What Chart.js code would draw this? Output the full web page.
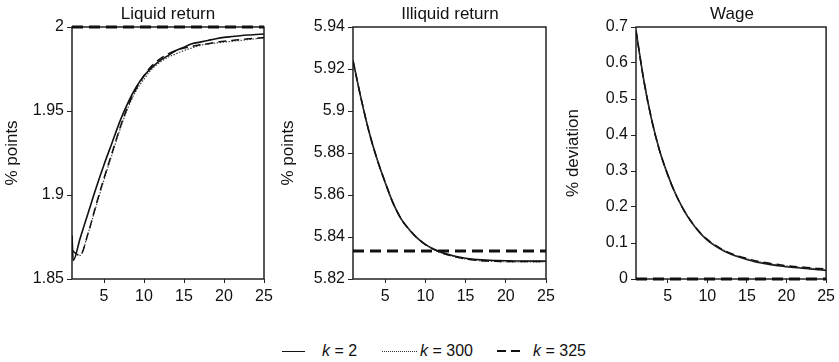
<!DOCTYPE html>
<html>
<head>
<meta charset="utf-8">
<script src="https://cdn.jsdelivr.net/npm/chart.js@4.4.1/dist/chart.umd.min.js"></script>
<style>
  html, body { margin: 0; padding: 0; background: #fff; }
  body { width: 839px; height: 362px; position: relative; overflow: hidden; font-family: "Liberation Sans", Arial, sans-serif; color: #111; }
  .panel { position: absolute; top: 0; }
  .ttl { position: absolute; top: 4px; font-size: 17px; text-align: center; white-space: nowrap; }
  .leg { position: absolute; font-size: 16px; white-space: nowrap; line-height: 16px; }
  .smp { position: absolute; height: 0; }
</style>
</head>
<body>
<div class="panel" style="left:0px"><canvas id="c1" width="280" height="310"></canvas></div>
<div class="panel" style="left:280px"><canvas id="c2" width="280" height="310"></canvas></div>
<div class="panel" style="left:560px"><canvas id="c3" width="279" height="310"></canvas></div>

<div class="ttl" style="left:68px;width:200px">Liquid return</div>
<div class="ttl" style="left:350px;width:200px">Illiquid return</div>
<div class="ttl" style="left:632px;width:200px">Wage</div>

<div class="smp" style="left:282px;top:351px;width:23px;border-top:1.5px solid #111"></div>
<div class="leg" style="left:322px;top:343px"><i>k</i> = 2</div>
<div class="smp" style="left:382px;top:351px;width:35px;border-top:1px dotted #333"></div>
<div class="leg" style="left:420px;top:343px"><i>k</i> = 300</div>
<div class="smp" style="left:497px;top:350px;width:23px;height:2px;background:repeating-linear-gradient(90deg,#111 0 9px,transparent 9px 14px)"></div>
<div class="leg" style="left:533px;top:343px"><i>k</i> = 325</div>

<script>
// ---------- data ----------
const periods = [1,2,3,4,5,6,7,8,9,10,11,12,13,14,15,16,17,18,19,20,21,22,23,24,25];
const xTickValues = [5,10,15,20,25];

// Liquid return (% points)
const liqK2Dip = [1.15, 1.861];          // early dip point of k = 2 curve (x, value)
const liqK2   = [1.876,1.874,1.889,1.904,1.918,1.931,1.944,1.955,1.964,1.971,1.976,1.980,1.983,1.986,1.988,1.990,1.991,1.992,1.993,1.9938,1.9943,1.9948,1.9952,1.9955,1.9958];
const liqK300 = [1.867,1.864,1.877,1.893,1.909,1.924,1.939,1.952,1.962,1.969,1.975,1.979,1.982,1.984,1.986,1.9875,1.989,1.990,1.9905,1.991,1.9915,1.992,1.9925,1.993,1.9935];
const liqK325 = [1.867,1.864,1.877,1.894,1.910,1.925,1.940,1.953,1.963,1.971,1.977,1.981,1.984,1.986,1.9875,1.9885,1.9895,1.990,1.991,1.9915,1.992,1.9925,1.993,1.9933,1.9937];
const liqFlat = 2.0;
const liqTicks = [1.85, 1.9, 1.95, 2];

// Illiquid return (% points)
const illK2   = [5.924,5.906,5.890,5.877,5.866,5.856,5.8485,5.8435,5.8395,5.8365,5.8343,5.8327,5.8315,5.8306,5.8299,5.8294,5.8291,5.8289,5.8288,5.8287,5.8286,5.8286,5.8285,5.8285,5.8285];
const illK300 = [5.924,5.906,5.890,5.877,5.866,5.856,5.8485,5.8435,5.8394,5.8363,5.8341,5.8324,5.8312,5.8302,5.8295,5.8290,5.8286,5.8284,5.8283,5.8282,5.8282,5.8282,5.8282,5.8282,5.8282];
const illK325 = [5.924,5.906,5.890,5.877,5.866,5.856,5.8485,5.8435,5.8395,5.8364,5.8342,5.8325,5.8313,5.8303,5.8296,5.8291,5.8287,5.8285,5.8284,5.8283,5.8283,5.8283,5.8283,5.8283,5.8283];
const illFlat = 5.8333;
const illTicks = [5.82, 5.84, 5.86, 5.88, 5.9, 5.92, 5.94];

// Wage (% deviation)
const wageK2   = [0.690,0.550,0.440,0.355,0.290,0.236,0.193,0.158,0.130,0.108,0.092,0.079,0.069,0.061,0.054,0.048,0.044,0.040,0.037,0.034,0.032,0.030,0.028,0.026,0.024];
const wageK300 = [0.690,0.550,0.440,0.355,0.290,0.236,0.193,0.159,0.131,0.109,0.093,0.080,0.070,0.062,0.056,0.050,0.046,0.042,0.039,0.036,0.034,0.032,0.030,0.028,0.027];
const wageK325 = [0.690,0.550,0.440,0.355,0.290,0.236,0.193,0.159,0.131,0.110,0.094,0.081,0.071,0.063,0.057,0.051,0.047,0.043,0.040,0.037,0.035,0.033,0.031,0.029,0.028];
const wageFlat = 0;
const wageTicks = [0, 0.1, 0.2, 0.3, 0.4, 0.5, 0.6, 0.7];

// ---------- helpers ----------
const FONT = "'Liberation Sans', Arial, sans-serif";
const pts = (vals) => vals.map((v, i) => ({x: periods[i], y: v}));
const flat = (v) => [{x: periods[0], y: v}, {x: periods[periods.length - 1], y: v}];

const boxPlugin = {
  id: 'box',
  beforeDatasetsDraw(chart) {
    const a = chart.chartArea, ctx = chart.ctx;
    ctx.save();
    ctx.strokeStyle = '#222';
    ctx.lineWidth = 1.5;
    ctx.strokeRect(a.left, a.top, a.right - a.left, a.bottom - a.top);
    ctx.restore();
  }
};

function series(k2, k300, k325, flatVal, dip) {
  const k2pts = pts(k2);
  if (dip) k2pts.splice(1, 0, {x: dip[0], y: dip[1]});
  return [
    {label: 'flat', data: flat(flatVal), borderColor: '#111', borderWidth: 3, borderDash: [11, 6], clip: 6},
    {label: 'k = 325', data: pts(k325), borderColor: '#111', borderWidth: 1.5, borderDash: [8, 5]},
    {label: 'k = 300', data: pts(k300), borderColor: '#444', borderWidth: 1.2, borderDash: [1.5, 1.5]},
    {label: 'k = 2', data: k2pts, borderColor: '#111', borderWidth: 1.6}
  ];
}

function makeChart(id, datasets, yTicks, yTitle, axisWidth, padRight, titlePad) {
  return new Chart(document.getElementById(id), {
    type: 'line',
    data: {datasets},
    options: {
      responsive: false,
      animation: false,
      devicePixelRatio: 1,
      layout: {padding: {top: 27, right: padRight, left: 0, bottom: 0}},
      elements: {point: {radius: 0}, line: {cubicInterpolationMode: 'monotone', fill: false}},
      plugins: {legend: {display: false}, tooltip: {enabled: false}, title: {display: false}},
      scales: {
        x: {
          type: 'linear', min: periods[0], max: periods[periods.length - 1],
          afterBuildTicks: (s) => { s.ticks = xTickValues.map(v => ({value: v})); },
          afterFit: (s) => { s.height = 31; },
          grid: {display: true, drawOnChartArea: false, drawTicks: true, tickLength: 4, color: '#222'},
          border: {display: false},
          ticks: {color: '#111', font: {family: FONT, size: 16}, padding: 4, autoSkip: false, maxRotation: 0}
        },
        y: {
          type: 'linear', min: yTicks[0], max: yTicks[yTicks.length - 1],
          afterBuildTicks: (s) => { s.ticks = yTicks.map(v => ({value: v})); },
          afterFit: (s) => { s.width = axisWidth; },
          grid: {display: true, drawOnChartArea: false, drawTicks: true, tickLength: 5, color: '#222'},
          border: {display: false},
          ticks: {color: '#111', font: {family: FONT, size: 16}, padding: 3, autoSkip: false,
                  callback: (v) => String(Math.round(v * 10000) / 10000)},
          title: {display: true, text: yTitle, color: '#111', font: {family: FONT, size: 17, lineHeight: 1}, padding: {top: titlePad, bottom: 0}}
        }
      }
    },
    plugins: [boxPlugin]
  });
}

makeChart('c1', series(liqK2, liqK300, liqK325, liqFlat, liqK2Dip), liqTicks, '% points', 72, 16, 3.5);
makeChart('c2', series(illK2, illK300, illK325, illFlat), illTicks, '% points', 73, 14, 0);
makeChart('c3', series(wageK2, wageK300, wageK325, wageFlat), wageTicks, '% deviation', 76, 12, 4.5);
</script>
</body>
</html>
